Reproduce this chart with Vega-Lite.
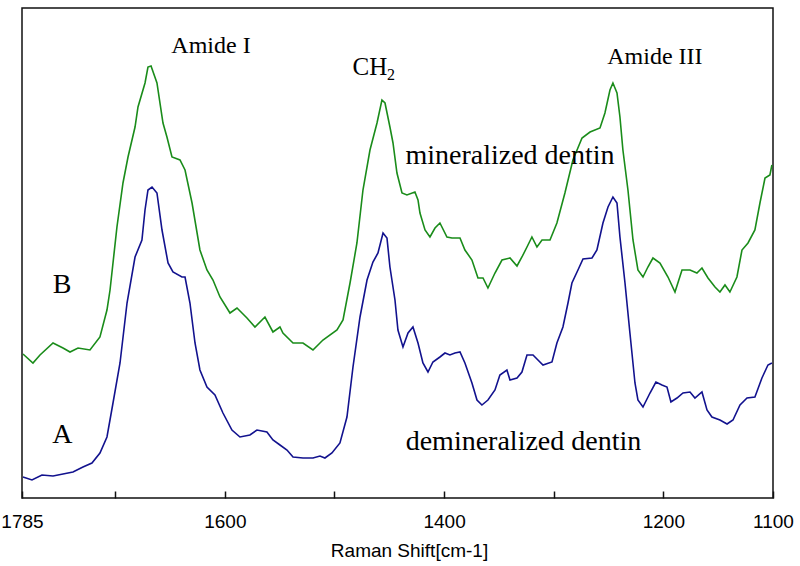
{
  "$schema": "https://vega.github.io/schema/vega-lite/v6.json",
  "width": 751,
  "height": 490,
  "autosize": {"type": "none"},
  "padding": {"left": 22, "top": 8, "right": 27, "bottom": 68},
  "background": "white",
  "config": {"view": {"stroke": "#111", "strokeWidth": 1.5}},
  "datasets": {
    "B": [
{"shift":1784.1,"intensity":144},{"shift":1775,"intensity":135},{"shift":1768.6,"intensity":143},{"shift":1756.7,"intensity":155},{"shift":1747.6,"intensity":150},{"shift":1741.2,"intensity":146},{"shift":1733.9,"intensity":150},{"shift":1723,"intensity":148},{"shift":1713.9,"intensity":161},{"shift":1707.5,"intensity":188},{"shift":1704.7,"intensity":208},{"shift":1698.4,"intensity":271},{"shift":1692.9,"intensity":315},{"shift":1688.3,"intensity":341},{"shift":1681.9,"intensity":371},{"shift":1679.2,"intensity":391},{"shift":1672.8,"intensity":415},{"shift":1670.1,"intensity":431},{"shift":1667.3,"intensity":432},{"shift":1661.9,"intensity":415},{"shift":1656.4,"intensity":375},{"shift":1652.8,"intensity":361},{"shift":1648.2,"intensity":341},{"shift":1640.9,"intensity":338},{"shift":1636.3,"intensity":328},{"shift":1629.9,"intensity":295},{"shift":1622.7,"intensity":248},{"shift":1616.3,"intensity":228},{"shift":1610.8,"intensity":218},{"shift":1604.4,"intensity":201},{"shift":1595.3,"intensity":185},{"shift":1588.9,"intensity":190},{"shift":1579.8,"intensity":180},{"shift":1572.5,"intensity":171},{"shift":1563.4,"intensity":181},{"shift":1556.1,"intensity":166},{"shift":1549.7,"intensity":171},{"shift":1547,"intensity":165},{"shift":1537.8,"intensity":155},{"shift":1528.7,"intensity":155},{"shift":1519.6,"intensity":148},{"shift":1510.5,"intensity":158},{"shift":1497.7,"intensity":168},{"shift":1492.2,"intensity":178},{"shift":1485.8,"intensity":215},{"shift":1479.5,"intensity":255},{"shift":1474,"intensity":308},{"shift":1467.6,"intensity":348},{"shift":1461.2,"intensity":375},{"shift":1456.7,"intensity":398},{"shift":1453.9,"intensity":395},{"shift":1449.4,"intensity":371},{"shift":1446.6,"intensity":355},{"shift":1443,"intensity":325},{"shift":1438.4,"intensity":305},{"shift":1433.9,"intensity":303},{"shift":1426.6,"intensity":306},{"shift":1423.8,"intensity":298},{"shift":1422,"intensity":285},{"shift":1417.4,"intensity":268},{"shift":1412.9,"intensity":261},{"shift":1408.3,"intensity":270},{"shift":1403.8,"intensity":275},{"shift":1397.4,"intensity":261},{"shift":1392.8,"intensity":260},{"shift":1385.5,"intensity":260},{"shift":1381,"intensity":248},{"shift":1374.6,"intensity":238},{"shift":1369.1,"intensity":220},{"shift":1364.5,"intensity":220},{"shift":1360,"intensity":210},{"shift":1353.6,"intensity":225},{"shift":1347.2,"intensity":238},{"shift":1339.9,"intensity":240},{"shift":1333.5,"intensity":232},{"shift":1329,"intensity":241},{"shift":1324.4,"intensity":251},{"shift":1319.9,"intensity":261},{"shift":1315.3,"intensity":251},{"shift":1310.7,"intensity":258},{"shift":1303.4,"intensity":258},{"shift":1297.1,"intensity":275},{"shift":1289.8,"intensity":305},{"shift":1282.5,"intensity":338},{"shift":1274.2,"intensity":360},{"shift":1266.9,"intensity":366},{"shift":1257.8,"intensity":370},{"shift":1253.3,"intensity":385},{"shift":1248.7,"intensity":408},{"shift":1246,"intensity":415},{"shift":1242.3,"intensity":405},{"shift":1239.6,"intensity":381},{"shift":1236.9,"intensity":348},{"shift":1232.3,"intensity":308},{"shift":1227.7,"intensity":258},{"shift":1223.2,"intensity":228},{"shift":1218.6,"intensity":221},{"shift":1214.1,"intensity":231},{"shift":1209.5,"intensity":240},{"shift":1203.1,"intensity":235},{"shift":1195.8,"intensity":221},{"shift":1189.4,"intensity":206},{"shift":1183,"intensity":228},{"shift":1175.7,"intensity":228},{"shift":1169.4,"intensity":225},{"shift":1164.8,"intensity":230},{"shift":1159.3,"intensity":220},{"shift":1152.9,"intensity":211},{"shift":1148.4,"intensity":206},{"shift":1143.8,"intensity":213},{"shift":1139.3,"intensity":206},{"shift":1132.9,"intensity":221},{"shift":1128.3,"intensity":248},{"shift":1122.8,"intensity":255},{"shift":1116.5,"intensity":268},{"shift":1111.9,"intensity":295},{"shift":1107.3,"intensity":320},{"shift":1102.8,"intensity":323},{"shift":1101,"intensity":333}
    ],
    "A": [
{"shift":1784.1,"intensity":21},{"shift":1775.9,"intensity":18},{"shift":1766.8,"intensity":23},{"shift":1756.7,"intensity":22},{"shift":1747.6,"intensity":24},{"shift":1738.5,"intensity":26},{"shift":1729.4,"intensity":31},{"shift":1721.2,"intensity":35},{"shift":1713.9,"intensity":45},{"shift":1707.5,"intensity":61},{"shift":1702,"intensity":95},{"shift":1695.6,"intensity":135},{"shift":1689.2,"intensity":195},{"shift":1681.9,"intensity":241},{"shift":1675.6,"intensity":258},{"shift":1672.8,"intensity":288},{"shift":1670.1,"intensity":308},{"shift":1666.4,"intensity":311},{"shift":1661.9,"intensity":305},{"shift":1657.3,"intensity":268},{"shift":1651.8,"intensity":235},{"shift":1647.3,"intensity":226},{"shift":1639.1,"intensity":221},{"shift":1636.3,"intensity":221},{"shift":1631.8,"intensity":195},{"shift":1627.2,"intensity":155},{"shift":1622.7,"intensity":128},{"shift":1616.3,"intensity":111},{"shift":1609,"intensity":103},{"shift":1601.7,"intensity":85},{"shift":1593.5,"intensity":68},{"shift":1586.2,"intensity":61},{"shift":1577.1,"intensity":63},{"shift":1570.7,"intensity":68},{"shift":1561.6,"intensity":66},{"shift":1556.1,"intensity":58},{"shift":1549.7,"intensity":53},{"shift":1543.3,"intensity":48},{"shift":1537.8,"intensity":41},{"shift":1528.7,"intensity":40},{"shift":1519.6,"intensity":40},{"shift":1513.2,"intensity":42},{"shift":1508.7,"intensity":40},{"shift":1502.3,"intensity":45},{"shift":1495,"intensity":55},{"shift":1488.6,"intensity":81},{"shift":1483.1,"intensity":131},{"shift":1476.7,"intensity":181},{"shift":1470.3,"intensity":218},{"shift":1464.9,"intensity":236},{"shift":1460.3,"intensity":245},{"shift":1455.7,"intensity":265},{"shift":1452.1,"intensity":260},{"shift":1449.4,"intensity":231},{"shift":1444.8,"intensity":198},{"shift":1442.1,"intensity":168},{"shift":1437.5,"intensity":151},{"shift":1432.9,"intensity":165},{"shift":1428.4,"intensity":171},{"shift":1423.8,"intensity":155},{"shift":1419.3,"intensity":135},{"shift":1414.7,"intensity":126},{"shift":1410.2,"intensity":136},{"shift":1403.8,"intensity":141},{"shift":1399.2,"intensity":145},{"shift":1394.7,"intensity":143},{"shift":1390.1,"intensity":145},{"shift":1385.5,"intensity":146},{"shift":1381,"intensity":135},{"shift":1374.6,"intensity":115},{"shift":1370,"intensity":98},{"shift":1365.5,"intensity":93},{"shift":1360,"intensity":98},{"shift":1353.6,"intensity":108},{"shift":1349.1,"intensity":123},{"shift":1342.7,"intensity":128},{"shift":1339.9,"intensity":118},{"shift":1333.5,"intensity":120},{"shift":1329,"intensity":126},{"shift":1324.4,"intensity":143},{"shift":1318.9,"intensity":143},{"shift":1314.4,"intensity":138},{"shift":1309.8,"intensity":133},{"shift":1301.6,"intensity":136},{"shift":1297.1,"intensity":155},{"shift":1291.6,"intensity":171},{"shift":1287,"intensity":195},{"shift":1283.4,"intensity":215},{"shift":1277.9,"intensity":228},{"shift":1273.3,"intensity":239},{"shift":1265.1,"intensity":240},{"shift":1260.6,"intensity":248},{"shift":1255.1,"intensity":275},{"shift":1250.5,"intensity":291},{"shift":1246,"intensity":301},{"shift":1242.3,"intensity":295},{"shift":1239.6,"intensity":261},{"shift":1235,"intensity":215},{"shift":1230.5,"intensity":165},{"shift":1225.9,"intensity":115},{"shift":1223.2,"intensity":98},{"shift":1218.6,"intensity":91},{"shift":1212.2,"intensity":105},{"shift":1206.8,"intensity":116},{"shift":1201.3,"intensity":113},{"shift":1196.7,"intensity":111},{"shift":1193.1,"intensity":96},{"shift":1187.6,"intensity":100},{"shift":1182.1,"intensity":105},{"shift":1175.7,"intensity":106},{"shift":1171.2,"intensity":100},{"shift":1164.8,"intensity":106},{"shift":1160.2,"intensity":88},{"shift":1155.7,"intensity":81},{"shift":1148.4,"intensity":78},{"shift":1141.9,"intensity":74},{"shift":1136.5,"intensity":78},{"shift":1130.1,"intensity":93},{"shift":1123.7,"intensity":100},{"shift":1116.5,"intensity":101},{"shift":1110.1,"intensity":120},{"shift":1104.6,"intensity":133},{"shift":1101,"intensity":135}
    ],
    "labels24": [
      {"label": "Amide I", "shift": 1612.6, "intensity": 445},
      {"label": "Amide III", "shift": 1207.7, "intensity": 434}
    ],
    "labels28": [
      {"label": "mineralized dentin", "shift": 1339.9, "intensity": 334},
      {"label": "demineralized dentin", "shift": 1327.6, "intensity": 48},
      {"label": "B", "shift": 1748.5, "intensity": 205},
      {"label": "A", "shift": 1748.1, "intensity": 55}
    ],
    "labelCH": [{"label": "CH", "shift": 1467.6, "intensity": 423}],
    "labelSub": [{"label": "2", "shift": 1448.5, "intensity": 418}]
  },
  "encoding": {
    "x": {
      "field": "shift", "type": "quantitative",
      "scale": {"domain": [1100, 1785], "reverse": true, "nice": false, "zero": false},
      "axis": {
        "values": [1785, 1700, 1600, 1500, 1400, 1300, 1200, 1100],
        "labelExpr": "indexof([1700, 1500, 1300], datum.value) >= 0 ? '' : datum.label",
        "format": "d",
        "grid": false, "domain": false,
        "tickSize": -7, "tickColor": "#111", "tickWidth": 1.5,
        "labelFont": "Liberation Sans", "labelFontSize": 19, "labelColor": "#000",
        "labelBaseline": "alphabetic", "labelPadding": 36,
        "labelFlush": false, "labelOverlap": false, "labelBound": false,
        "title": "Raman Shift[cm-1]", "titleFont": "Liberation Sans", "titleFontSize": 19,
        "titleFontWeight": "normal", "titleColor": "#000",
        "titleX": 387, "titleY": 58, "titleBaseline": "alphabetic", "titleAlign": "center"
      }
    },
    "y": {
      "field": "intensity", "type": "quantitative",
      "scale": {"domain": [0, 490], "nice": false, "zero": false},
      "axis": null
    }
  },
  "layer": [
    {
      "data": {"name": "B"},
      "mark": {"type": "line", "color": "#1a8c1a", "strokeWidth": 1.6},
      "encoding": {}
    },
    {
      "data": {"name": "A"},
      "mark": {"type": "line", "color": "#12128e", "strokeWidth": 1.6},
      "encoding": {}
    },
    {
      "data": {"name": "labels24"},
      "mark": {"type": "text", "font": "Liberation Serif", "fontSize": 24, "baseline": "alphabetic", "align": "center", "color": "#000"},
      "encoding": {"text": {"field": "label"}}
    },
    {
      "data": {"name": "labels28"},
      "mark": {"type": "text", "font": "Liberation Serif", "fontSize": 28, "baseline": "alphabetic", "align": "center", "color": "#000"},
      "encoding": {"text": {"field": "label"}}
    },
    {
      "data": {"name": "labelCH"},
      "mark": {"type": "text", "font": "Liberation Serif", "fontSize": 25, "baseline": "alphabetic", "align": "center", "color": "#000"},
      "encoding": {"text": {"field": "label"}}
    },
    {
      "data": {"name": "labelSub"},
      "mark": {"type": "text", "font": "Liberation Serif", "fontSize": 16, "baseline": "alphabetic", "align": "center", "color": "#000"},
      "encoding": {"text": {"field": "label"}}
    }
  ]
}
